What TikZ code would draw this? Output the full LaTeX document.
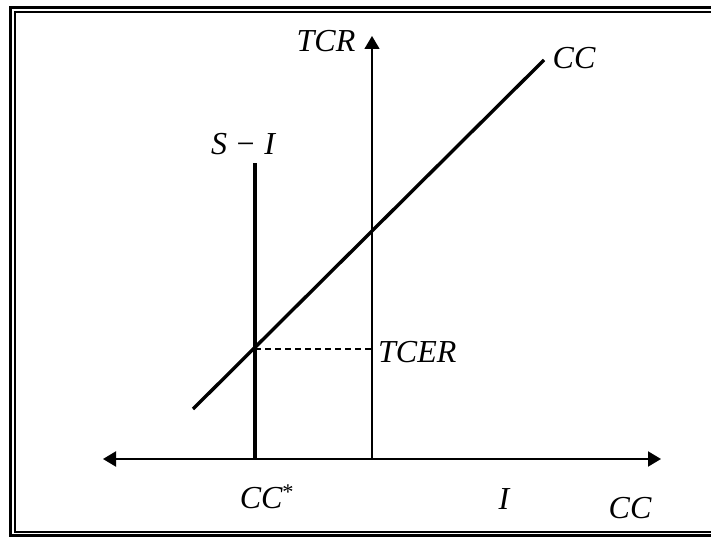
\documentclass[tikz,border=0pt]{standalone}
\usepackage{fontspec}
\setmainfont{Liberation Serif}
\usepackage{tikz}
\usetikzlibrary{positioning, arrows.meta}

\begin{document}
\begin{tikzpicture}[x=1pt, y=-1pt,
    lbl/.style={inner sep=0pt, font=\fontsize{32}{36}\selectfont\itshape},
    axis/.style={line width=2pt, -{Triangle[length=13pt, width=15pt]}},
    curve/.style={line width=3.4pt}]
          \useasboundingbox (0,0) rectangle (711,540);

          % Frame (right side falls outside the page)
          \draw[line width=3pt] (711,7.5) -- (10.5,7.5) -- (10.5,535.5) -- (711,535.5);
          \draw[line width=1.5pt] (711,12) -- (15,12) -- (15,532) -- (711,532);

          % Points
          \coordinate (O) at (372,459);
          \coordinate (ytop) at (372,36);
          \coordinate (xleft) at (103,459);
          \coordinate (xright) at (661,459);
          \coordinate (sitop) at (255,163);
          \coordinate (sibot) at (255,459);
          \coordinate (ccbot) at (193,409);
          \coordinate (cctop) at (544,60);
          \coordinate (eq) at (255,349);
          \coordinate (eqy) at (372,349);

          % Axes
          \draw[line width=1.4pt, -{Triangle[length=13pt, width=15pt]}] (O) -- (ytop);
          \draw[axis] (O) -- (xright);
          \draw[axis] (O) -- (xleft);

          % Curves
          \draw[curve] (sibot) -- (sitop);
          \draw[curve] (ccbot) -- (cctop);
          \draw[line width=1.3pt, dash pattern=on 6pt off 4pt] (eq) -- (eqy);

          % Labels
          \node[lbl] (tcr) at (326,41) {TCR};
          \node[lbl] (cclbl) at (574,58) {CC};
          \node[lbl] (si) at (243,144) {S\hspace{0.3em}{\upshape −}\hspace{0.3em}I};
          \node[lbl, anchor=west] (tcer) at (378,352) {TCER};
          \node[lbl] (ccstar) at (267,497) {CC\textsuperscript{\upshape *}};
          \node[lbl] (ilbl) at (504,499) {I};
          \node[lbl] (ccaxis) at (630,508) {CC};
        \end{tikzpicture}
\end{document}
